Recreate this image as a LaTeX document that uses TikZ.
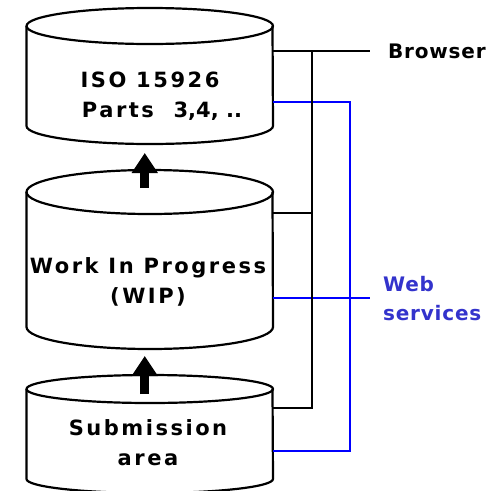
\documentclass[tikz,border=0pt]{standalone}
\usepackage{fontspec}
\setmainfont{DejaVu Sans}
\newfontfamily\cylfont[LetterSpace=12]{DejaVu Sans}
\newfontfamily\labfont[LetterSpace=4]{DejaVu Sans}
\newfontfamily\numfont{DejaVu Sans}
\usetikzlibrary{arrows.meta}
\definecolor{wsblue}{RGB}{0,0,255}
\definecolor{wstext}{RGB}{51,51,204}
\tikzset{
    cyl/.style={line width=2.2pt},
    wire/.style={line width=2.2pt},
    wsline/.style={line width=2.2pt, draw=wsblue},
    lift/.style={line width=9pt, -{Triangle[width=25pt,length=20pt]}},
    cyltext/.style={font=\cylfont\bfseries\fontsize{21}{30}\selectfont, align=center, inner sep=0pt},
    labtext/.style={font=\labfont\bfseries\fontsize{20}{29}\selectfont, align=left, inner sep=0pt, anchor=west}
}

\begin{document}
\begin{tikzpicture}[x=1pt,y=1pt]
\useasboundingbox (0,0) rectangle (489,-491);
\foreach \name/\ya/\yb/\ry in {iso/26/126/18, wip/192/327/22, sub/389/479/14}{
    \draw[cyl, fill=white] (26.5,-\ya) -- (26.5,-\yb) arc[start angle=180, end angle=360, x radius=123.25, y radius=\ry] -- (272.5,-\ya);
    \draw[cyl] (149.75,-\ya) ellipse[x radius=123.25, y radius=\ry];
    \coordinate (\name-top) at (149.75,-\ya+\ry);
    \coordinate (\name-base) at (149.75,-\yb-\ry);
}
\node[cyltext] (iso) at (150,-96) {ISO 15926\\\hspace*{24pt}Parts\ \ {\numfont\bfseries 3,4, ..}};
\node[cyltext] (wip) at (148,-282) {Work In Progress\\(WIP)};
\node[cyltext] (sub) at (148,-443) {Submission\\area};
\draw[lift] ([xshift=-5pt,yshift=-18pt]wip-top) -- ([xshift=-5pt,yshift=-9pt]iso-base);
\draw[lift] ([xshift=-5pt,yshift=-19pt]sub-top) -- ([xshift=-5pt,yshift=-7pt]wip-base);
% side connectors
\coordinate (iso-br) at (272.5,-51);
\coordinate (iso-ws) at (272.5,-102);
\coordinate (wip-br) at (272.5,-213);
\coordinate (wip-ws) at (272.5,-298);
\coordinate (sub-br) at (272.5,-408);
\coordinate (sub-ws) at (272.5,-451);
\coordinate (br-bus) at (312,-51);
\coordinate (ws-bus) at (350,-451);
\coordinate (br-end) at (370,-51);
\coordinate (ws-end) at (370,-298);
\draw[wsline] (iso-ws) -| (ws-bus) -- (sub-ws);
\draw[wsline] (wip-ws) -- (ws-end);
\draw[wire] (iso-br) -- (br-end);
\draw[wire] (sub-br) -| (br-bus);
\draw[wire] (wip-br) -- (wip-br -| br-bus);
\node[labtext] (browser) at (388,-51) {Browser};
\node[labtext, text=wstext] (websvc) at (383,-298.5) {Web\\services};
\end{tikzpicture}
\end{document}
